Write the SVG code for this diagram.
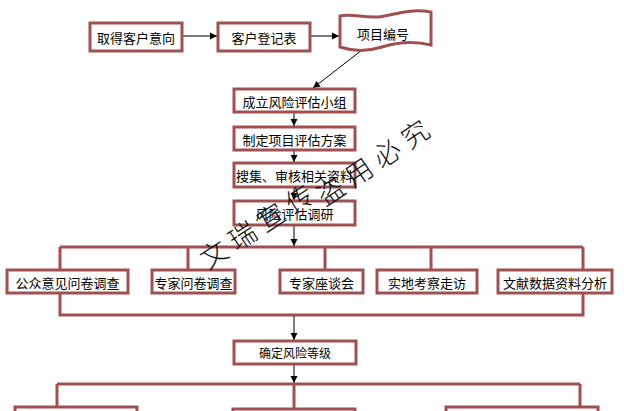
<svg xmlns="http://www.w3.org/2000/svg" width="624" height="411" viewBox="0 0 624 411">
<defs>
<marker id="ah" markerWidth="8" markerHeight="8" refX="7" refY="4" orient="auto" markerUnits="userSpaceOnUse">
<path d="M0,0.5 L7,4 L0,7.5 Z" fill="#000"/>
</marker>
<style>
.box{fill:#fff;stroke:#a05050;stroke-width:3}
.t{font-family:"Noto Sans CJK SC","Noto Sans",sans-serif;font-size:13px;fill:#000;text-anchor:middle;dominant-baseline:central}
.br{fill:none;stroke:#a05050;stroke-width:3}
.ar{fill:none;stroke:#000;stroke-width:1;marker-end:url(#ah)}
.wm{font-family:"Noto Sans CJK SC",sans-serif;font-size:27px;fill:#111;font-weight:300;letter-spacing:7px}
</style>
</defs>
<rect width="624" height="411" fill="#fff"/>
<g id="connectors">
<line class="ar" x1="182" y1="36" x2="217" y2="36"/>
<line class="ar" x1="310" y1="36" x2="339" y2="36"/>
<line class="ar" x1="362" y1="50" x2="313" y2="88"/>
<line class="ar" x1="294" y1="112" x2="294" y2="126"/>
<line class="ar" x1="294" y1="150" x2="294" y2="162"/>
<line class="ar" x1="294" y1="187" x2="294" y2="200"/>
<line class="ar" x1="294" y1="225" x2="294" y2="246"/>
<path class="br" d="M60,247 H583 M60,247 V315 H583 V247 M188,247 V270 M325,247 V270 M431,247 V270"/>
<line class="ar" x1="294" y1="316" x2="294" y2="340"/>
<line class="ar" x1="294" y1="364" x2="294" y2="383"/>
<path class="br" d="M57,384 H580 M57,384 V411 M580,384 V411 M294,384 V411"/>
</g>
<g id="n1"><rect class="box" x="90" y="23" width="92" height="28"/><text class="t" x="136" y="37">取得客户意向</text></g>
<g id="n2"><rect class="box" x="218" y="23" width="92" height="28"/><text class="t" x="264" y="37">客户登记表</text></g>
<g id="n3"><path class="box" d="M340,16 C352,13 362,18 378,17 C395,15 408,8 431,12 L431,45 C415,41 398,42 382,47 C366,52 352,51 340,47 Z"/><text class="t" x="383" y="33">项目编号</text></g>
<g id="n4"><rect class="box" x="234" y="89" width="121" height="23"/><text class="t" x="294.5" y="101">成立风险评估小组</text></g>
<g id="n5"><rect class="box" x="234" y="127" width="121" height="23"/><text class="t" x="294.5" y="139">制定项目评估方案</text></g>
<g id="n6"><rect class="box" x="234" y="163" width="121" height="24"/><text class="t" x="294.5" y="175">搜集、审核相关资料</text></g>
<g id="n7"><rect class="box" x="234" y="201" width="121" height="24"/><text class="t" x="294.5" y="213">风险评估调研</text></g>
<g id="n8"><rect class="box" x="7" y="270" width="121" height="23"/><text class="t" x="67.5" y="282">公众意见问卷调查</text></g>
<g id="n9"><rect class="box" x="152" y="270" width="83" height="23"/><text class="t" x="193.5" y="282">专家问卷调查</text></g>
<g id="n10"><rect class="box" x="280" y="270" width="83" height="23"/><text class="t" x="321.5" y="282">专家座谈会</text></g>
<g id="n11"><rect class="box" x="377" y="270" width="100" height="23"/><text class="t" x="427" y="282">实地考察走访</text></g>
<g id="n12"><rect class="box" x="498" y="270" width="114" height="23"/><text class="t" x="555" y="282">文献数据资料分析</text></g>
<g id="n13"><rect class="box" x="234" y="341" width="122" height="23"/><text class="t" x="295" y="352.5" style="font-size:12px">确定风险等级</text></g>
<g id="n14"><rect class="box" x="15" y="407" width="122" height="10"/></g>
<g id="n15"><rect class="box" x="233" y="409" width="122" height="10"/></g>
<g id="n16"><rect class="box" x="446" y="407" width="152" height="10"/></g>
<g id="watermark">
<text class="wm" transform="translate(208,270) rotate(-33)">文瑞宣传</text>
<text class="wm" transform="translate(325,207) rotate(-34)">盗用必究</text>
</g>
</svg>
